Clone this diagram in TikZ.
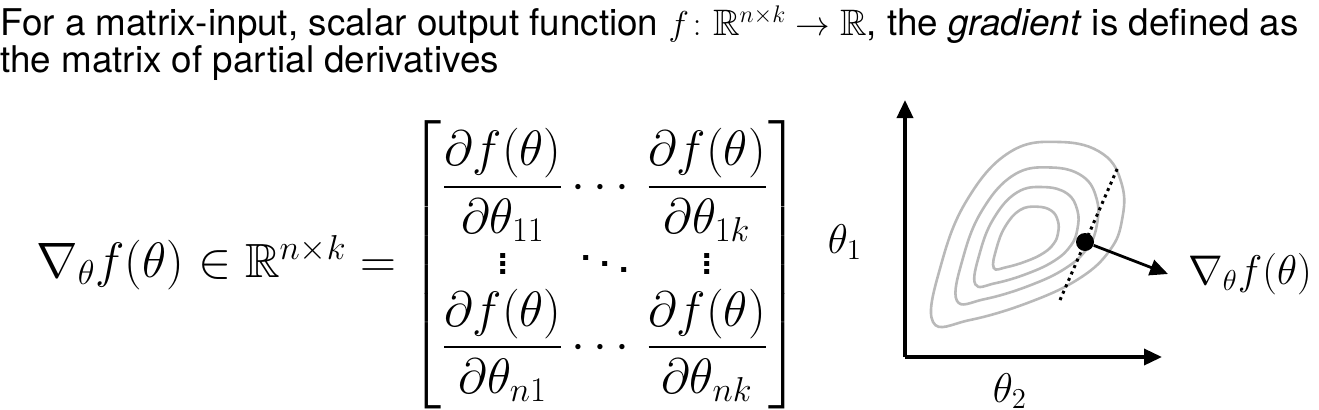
\documentclass[tikz,border=0pt]{standalone}
\usepackage{amsmath}
\usepackage{amssymb}
\usepackage{fontspec}
\setmainfont{TeX Gyre Heros}
\usetikzlibrary{arrows.meta}
\usetikzlibrary{positioning}

\tikzset{
  axis/.style={line width=1.8pt, -{Triangle[length=9pt,width=8pt]}},
  contour/.style={gray!55, line width=1.3pt},
}

\begin{document}
\begin{tikzpicture}[x=0.5pt, y=-0.5pt, inner sep=0pt]
    \useasboundingbox (0,0) rectangle (1319,409);
    % text
    \node[anchor=base west] (line1) at (0,35) {\fontsize{18.4}{22}\selectfont For a matrix-input, scalar output function $f\colon \mathbb{R}^{n\times k}\to\mathbb{R}$, the \textit{gradient} is defined as};
    \node[anchor=base west] (line2) at (0,72) {\fontsize{18.4}{22}\selectfont the matrix of partial derivatives};
    % equation
    \node[anchor=west] (eq) at (36,265) {\fontsize{24}{28}\selectfont \setlength{\arraycolsep}{2pt}\renewcommand{\arraystretch}{0.85}$\nabla_\theta f(\theta)\in\mathbb{R}^{n\times k} =
      \begin{bmatrix}
        \dfrac{\partial f(\theta)}{\partial\theta_{11}} & \cdots & \dfrac{\partial f(\theta)}{\partial\theta_{1k}}\\
        \vdots & \ddots & \vdots\\
        \dfrac{\partial f(\theta)}{\partial\theta_{n1}} & \cdots & \dfrac{\partial f(\theta)}{\partial\theta_{nk}}
      \end{bmatrix}$};
    \node (t1) at (845,242) {\fontsize{21.5}{26}\selectfont $\theta_1$};
    % axes
    \coordinate (origin) at (905,357);
    \coordinate (ytip) at (905,100);
    \coordinate (xtip) at (1162,357);
    \draw[axis] (origin) -- (ytip);
    \draw[axis] (origin) -- (xtip);
    \node[anchor=north] (t2) at (1010,373) {\fontsize{21.5}{26}\selectfont $\theta_2$};
    % contours
    \foreach \s in {1,0.74,0.54,0.34}
      \draw[contour, shift={(1025,240)}, scale=\s] plot[smooth cycle, tension=0.7] coordinates {
        (-92,82) (-84,25) (-58,-40) (-15,-88) (35,-98) (78,-86) (97,-55) (97,-20) (85,10) (55,38) (5,62) (-55,80)};
    \draw[dotted, line width=1.5pt] (1060,300) -- (1118,167);
    % gradient
    \node[circle, fill=black, minimum size=9pt] (pt) at (1085,242) {};
    \node[anchor=west] (grad) at (1188,274) {\fontsize{21.5}{26}\selectfont $\nabla_\theta f(\theta)$};
    \draw[line width=1.4pt, -{Triangle[length=9pt,width=8pt]}] (pt) -- ([xshift=-10pt]grad.west);
\end{tikzpicture}
\end{document}
